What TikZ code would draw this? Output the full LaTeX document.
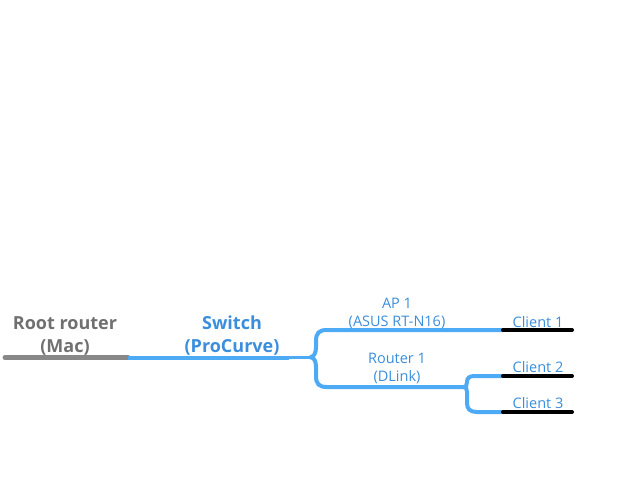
\documentclass[tikz,border=0pt]{standalone}
\usepackage{fontspec}
\setmainfont{Open Sans}
\definecolor{lineblue}{RGB}{77,171,245}
\definecolor{textblue}{RGB}{58,142,220}
\definecolor{linegray}{RGB}{136,136,136}
\definecolor{textgray}{RGB}{112,112,112}
\begin{document}
\begin{tikzpicture}[x=1pt,y=-1pt,
  small/.style={align=center, inner sep=0pt, text=textblue, font=\fontsize{14.5}{18}\selectfont},
  big/.style={align=center, inner sep=0pt, font=\bfseries\fontsize{18}{23}\selectfont},
  blueline/.style={draw=lineblue, line width=4pt},
  thinblue/.style={draw=lineblue, line width=2.7pt},
  grayline/.style={draw=linegray, line width=5pt},
  blackline/.style={draw=black, line width=4pt, line cap=round}]
\useasboundingbox (0,0) rectangle (644,494);
% coordinates
\coordinate (r0) at (5,357.5);
\coordinate (r1) at (128,357.5);
\coordinate (s1) at (289,357.5);
\coordinate (s2) at (289,357.2);
\coordinate (j1) at (310,357.2);
\coordinate (ap) at (503,330);
\coordinate (ro) at (462,387);
\coordinate (j2) at (464,387);
\coordinate (c1a) at (503,330);
\coordinate (c1b) at (572,330);
\coordinate (c2a) at (503,376);
\coordinate (c2b) at (572,376);
\coordinate (c3a) at (503,412);
\coordinate (c3b) at (572,412);
% lines
\draw[grayline, line cap=round] (r0) -- (r1);
\draw[blueline] (r1) -- (s1);
\draw[thinblue] (s2) -- (j1);
\draw[blueline] (j1) .. controls (314,357.2) and (316,353) .. (316,347)
   -- (316,341) .. controls (316,333) and (319,330) .. (327,330) -- (ap);
\draw[blueline] (j1) .. controls (314,357.2) and (316,361) .. (316,367)
   -- (316,376) .. controls (316,384) and (319,387) .. (327,387) -- (ro);
\draw[blueline] (ro) -- (j2) .. controls (466,387) and (467,385) .. (467,382)
   .. controls (467,378) and (469,376) .. (475,376) -- (c2a);
\draw[blueline] (j2) .. controls (466,387) and (467,389) .. (467,392)
   -- (467,403) .. controls (467,409) and (470,412) .. (477,412) -- (c3a);
\draw[blackline] (c1a) -- (c1b);
\draw[blackline] (c2a) -- (c2b);
\draw[blackline] (c3a) -- (c3b);
% labels
\node[big, text=textgray] (root) at (65,336) {Root router\\(Mac)};
\node[big, text=textblue] (sw) at (232,336) {Switch\\(ProCurve)};
\node[small] (ap1) at (397,313) {AP 1\\(ASUS RT-N16)};
\node[small] (rt1) at (397,368.5) {Router 1\\(DLink)};
\node[small, anchor=base] (cl1) at (538,327) {Client 1};
\node[small, anchor=base] (cl2) at (538,372.5) {Client 2};
\node[small, anchor=base] (cl3) at (538,408.5) {Client 3};
\end{tikzpicture}
\end{document}
